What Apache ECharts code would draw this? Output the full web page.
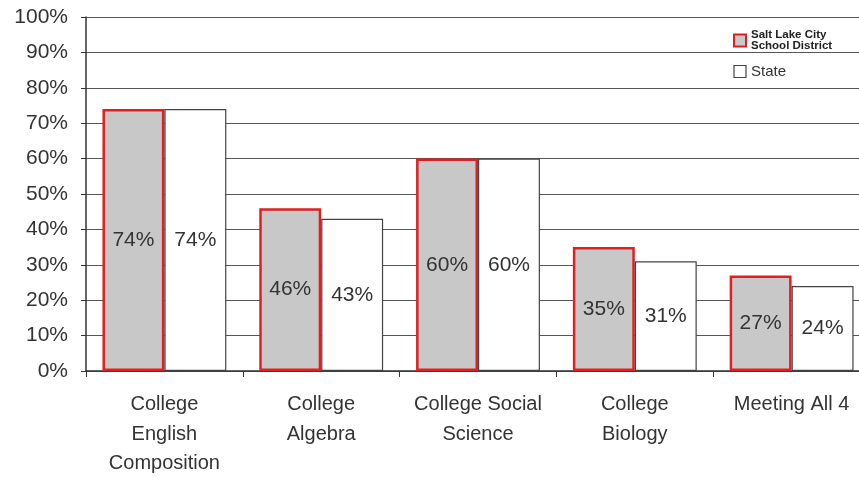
<!DOCTYPE html>
<html><head><meta charset="utf-8">
<script src="https://cdn.jsdelivr.net/npm/echarts@6/dist/echarts.min.js"></script>
<style>html,body{margin:0;padding:0;background:#fff;overflow:hidden}#c{width:859px;height:477px}</style>
</head><body><div id="c"></div>
<script>
const categories = ['College\nEnglish\nComposition', 'College\nAlgebra', 'College Social\nScience', 'College\nBiology', 'Meeting All 4'];
const slcValues = [74, 46, 60, 35, 27];
const stateValues = [74, 43, 60, 31, 24];
const yTicks = [0, 10, 20, 30, 40, 50, 60, 70, 80, 90, 100];

const chart = echarts.init(document.getElementById('c'));
const font = 'Liberation Sans, Arial, sans-serif';
chart.setOption({
  animation: false,
  backgroundColor: '#fff',
  grid: { left: 86, top: 17, width: 784, bottom: 106, containLabel: false, outerBoundsMode: 'none' },
  legend: {
    orient: 'vertical', left: 728, top: 24, itemWidth: 12, itemHeight: 12, itemGap: 12,
    icon: 'rect',
    data: [
      { name: 'Salt Lake City School District', itemStyle: { color: '#c8c8c8', borderColor: '#e02020', borderWidth: 2 } },
      { name: 'State', itemStyle: { color: '#fff', borderColor: '#444', borderWidth: 1.2 } }
    ],
    formatter: n => n === 'State' ? '{s|State}' : '{a|Salt Lake City}\n{a|School District}',
    textStyle: {
      rich: {
        a: { fontFamily: 'Liberation Sans Narrow, Liberation Sans, sans-serif', fontWeight: 'bold', fontSize: 11.5, lineHeight: 11, color: '#222' },
        s: { fontFamily: font, fontSize: 15, color: '#333' }
      }
    }
  },
  xAxis: {
    type: 'category', data: categories,
    axisLine: { lineStyle: { color: '#333', width: 1.5 } },
    axisTick: { show: true, length: 6, lineStyle: { color: '#333' } },
    axisLabel: { fontFamily: font, fontSize: 20, color: '#333', lineHeight: 29.5, margin: 19, interval: 0 }
  },
  yAxis: {
    type: 'value', min: 0, max: 100, interval: 10,
    axisLine: { show: true, lineStyle: { color: '#333', width: 1.5 } },
    axisTick: { show: true, length: 5, lineStyle: { color: '#333' } },
    axisLabel: { fontFamily: font, fontSize: 21, color: '#333', margin: 18, formatter: v => yTicks.includes(v) ? v + '%' : '' },
    splitLine: { lineStyle: { color: '#555', width: 1 } }
  },
  series: [
    {
      name: 'Salt Lake City School District', type: 'bar', data: slcValues,
      barGap: '0%', barCategoryGap: '21%',
      itemStyle: { color: '#c8c8c8', borderColor: '#e02020', borderWidth: 2.5 },
      label: { show: true, position: 'inside', formatter: p => p.value + '%', fontFamily: font, fontSize: 21, color: '#333' }
    },
    {
      name: 'State', type: 'bar', data: stateValues,
      barGap: '0%', barCategoryGap: '21%',
      itemStyle: { color: '#fff', borderColor: '#444', borderWidth: 1.2 },
      label: { show: true, position: 'inside', formatter: p => p.value + '%', fontFamily: font, fontSize: 21, color: '#333' }
    }
  ]
});
</script></body></html>
